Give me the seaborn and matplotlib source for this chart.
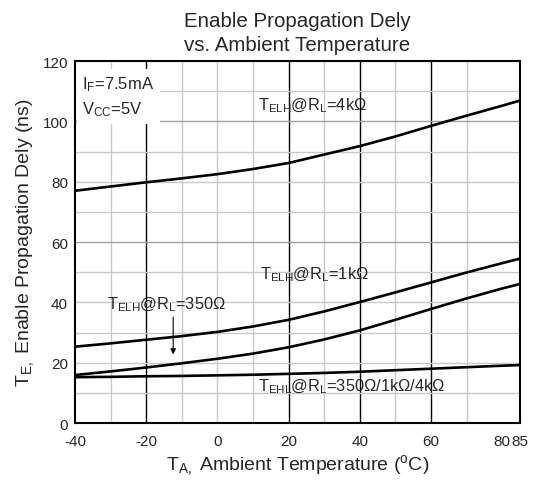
import numpy as np
import pandas as pd
import matplotlib
matplotlib.use("Agg")
import matplotlib.pyplot as plt
import seaborn as sns

temp = [-40, -30, -20, -10, 0, 10, 20, 30, 40, 50, 60, 70, 80, 85]

# Enable propagation delay (ns)
telh_4k = [77.0, 78.4, 79.8, 81.1, 82.5, 84.2, 86.2, 89.0, 91.8, 95.0, 98.5, 101.9, 105.2, 106.9]
telh_1k = [25.3, 26.4, 27.6, 28.8, 30.2, 32.0, 34.2, 37.0, 40.1, 43.3, 46.6, 49.9, 53.0, 54.5]
telh_350 = [15.9, 17.1, 18.4, 19.8, 21.3, 23.0, 25.1, 27.7, 30.7, 34.2, 37.8, 41.3, 44.6, 46.1]
tehl_all = [15.2, 15.3, 15.5, 15.6, 15.8, 16.0, 16.3, 16.6, 17.0, 17.5, 18.0, 18.5, 19.0, 19.2]

xticks = [-40, -20, 0, 20, 40, 60, 80, 85]
yticks = [0, 20, 40, 60, 80, 100, 120]

sns.set_style("white")
plt.rcParams["font.family"] = ["Liberation Sans", "DejaVu Sans"]
plt.rcParams["mathtext.fontset"] = "custom"
plt.rcParams["mathtext.rm"] = "Liberation Sans"
plt.rcParams["mathtext.it"] = "Liberation Sans:italic"

df = pd.DataFrame({
    "temp": temp * 4,
    "delay": telh_4k + telh_1k + telh_350 + tehl_all,
    "curve": ["4k"] * len(temp) + ["1k"] * len(temp) + ["350"] * len(temp) + ["ehl"] * len(temp),
})

fig = plt.figure(figsize=(5.35, 4.81), dpi=100)
ax = fig.add_axes([0.140, 0.1185, 0.832, 0.7525])

# grid: light minor lines every 10, darker verticals at some majors
for x in range(-30, 80, 10):
    dark = x in (-20, 20, 40, 60)
    ax.axvline(x, color="black" if dark else "#c8c8c8", lw=1.0, zorder=1)
for y in range(10, 120, 10):
    ax.axhline(y, color="#a0a0a0" if y in (60, 100) else "#c8c8c8", lw=1.0, zorder=1)

sns.lineplot(data=df, x="temp", y="delay", units="curve", estimator=None,
             color="black", lw=1.9, ax=ax, zorder=3)

ax.set_xlim(-40, 85)
ax.set_ylim(0, 120)
ax.set_xticks(xticks)
ax.set_xticklabels([str(t) for t in xticks])
ax.set_yticks(yticks)
ax.tick_params(labelsize=11, length=0)
ax.tick_params(axis="x", pad=8)
ax.tick_params(axis="y", pad=5)
for s in ax.spines.values():
    s.set_color("black")
    s.set_linewidth(1.5)
    s.set_zorder(5)

ax.set_xlabel(r"T$_{\mathrm{A,}}$ Ambient Temperature ($^{\mathrm{o}}$C)", fontsize=14, labelpad=3)
ax.set_ylabel(r"T$_{\mathrm{E,}}$ Enable Propagation Dely (ns)", fontsize=14, labelpad=5)
ax.set_title("Enable Propagation Dely\nvs. Ambient Temperature", fontsize=14.8, pad=8, linespacing=1.35)

# condition box
ax.text(-38, 115.5, r"I$_{\mathrm{F}}$=7.5mA" + "\n" + r"V$_{\mathrm{CC}}$=5V", fontsize=12,
        va="top", ha="left", linespacing=1.45, zorder=4,
        bbox=dict(facecolor="white", edgecolor="none", pad=4))

tfs = 11.8
ax.text(11.5, 105.5, r"T$_{\mathrm{ELH}}$@R$_{\mathrm{L}}$=4kΩ", fontsize=tfs, va="center", zorder=4)
ax.text(12, 49.5, r"T$_{\mathrm{ELH}}$@R$_{\mathrm{L}}$=1kΩ", fontsize=tfs, va="center", zorder=4)
ax.text(-31, 39.5, r"T$_{\mathrm{ELH}}$@R$_{\mathrm{L}}$=350Ω", fontsize=tfs, va="center", zorder=4)
ax.text(11.5, 12.2, r"T$_{\mathrm{EHL}}$@R$_{\mathrm{L}}$=350Ω/1kΩ/4kΩ", fontsize=tfs, va="center", zorder=4)
ax.annotate("", xy=(-12.4, 21.8), xytext=(-12.4, 36.0),
            arrowprops=dict(arrowstyle="-|>", color="black", lw=0.8, mutation_scale=8), zorder=4)

fig.savefig("out.png", dpi=100)
